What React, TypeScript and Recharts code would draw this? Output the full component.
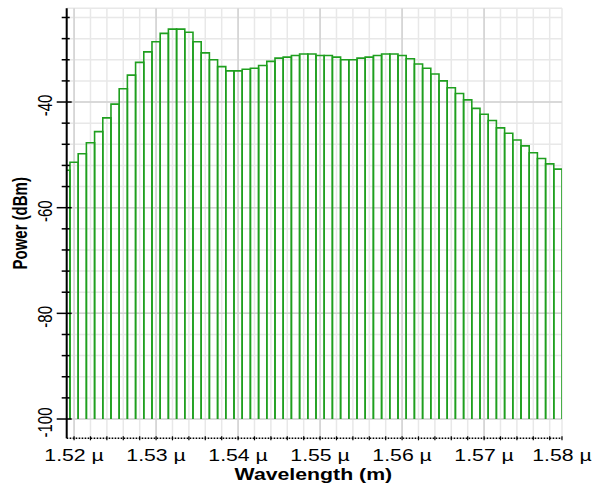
import { BarChart, Bar, XAxis, YAxis, CartesianGrid } from 'recharts';

// spectrum samples, 1 nm apart (values in µm / dBm)
const wavelengths = [
  1.519, 1.52, 1.521, 1.522, 1.523, 1.524, 1.525, 1.526, 1.527, 1.528,
  1.529, 1.53, 1.531, 1.532, 1.533, 1.534, 1.535, 1.536, 1.537, 1.538,
  1.539, 1.54, 1.541, 1.542, 1.543, 1.544, 1.545, 1.546, 1.547, 1.548,
  1.549, 1.55, 1.551, 1.552, 1.553, 1.554, 1.555, 1.556, 1.557, 1.558,
  1.559, 1.56, 1.561, 1.562, 1.563, 1.564, 1.565, 1.566, 1.567, 1.568,
  1.569, 1.57, 1.571, 1.572, 1.573, 1.574, 1.575, 1.576, 1.577, 1.578,
  1.579,
];
const powers = [
  -52.9, -51.4, -49.8, -47.7, -45.6, -43.0, -40.4, -37.5, -34.9, -32.5,
  -30.5, -28.6, -27.0, -26.2, -26.2, -26.8, -28.6, -30.7, -32.0, -33.3,
  -34.1, -34.1, -33.8, -33.6, -33.1, -32.3, -31.7, -31.5, -31.2, -30.9,
  -30.9, -31.2, -31.2, -31.5, -32.0, -32.0, -31.7, -31.5, -31.2, -30.9,
  -30.9, -31.2, -31.8, -32.8, -33.6, -34.7, -36.0, -37.3, -38.4, -39.6,
  -41.2, -42.3, -43.5, -44.9, -45.9, -47.2, -48.3, -49.6, -50.7, -51.7,
  -52.7,
];
const floorDbm = -100;

const xMinorTicks = [
  1.52, 1.522, 1.524, 1.526, 1.528, 1.53, 1.532, 1.534, 1.536, 1.538,
  1.54, 1.542, 1.544, 1.546, 1.548, 1.55, 1.552, 1.554, 1.556, 1.558,
  1.56, 1.562, 1.564, 1.566, 1.568, 1.57, 1.572, 1.574, 1.576, 1.578,
];
const xMajorTicks = [1.52, 1.53, 1.54, 1.55, 1.56, 1.57];
const xEdge = 1.5795; // right edge of the trace, labelled "1.58 µ"
const xDomain = [1.5191, xEdge];

const yTicks = [
  -100, -96, -92, -88, -84, -80, -76, -72, -68, -64,
  -60, -56, -52, -48, -44, -40, -36, -32, -28, -24,
];
const yMajorTicks = [-100, -80, -60, -40];
const yDomain = [-103.65, -22.26];

const data = wavelengths.map((w, i) => ({ w, range: [floorDbm, powers[i]] }));

const FONT = 'Liberation Sans, Arial, sans-serif';
const STRETCH = 1.33;

// open-bottomed bar: left side, top, right side
function StemBar({ x, y, width, height, stroke, strokeWidth }: any) {
  if (width == null || height == null) return null;
  const d = `M${x},${y + height}L${x},${y}L${x + width},${y}L${x + width},${y + height}`;
  return <path d={d} fill="none" stroke={stroke} strokeWidth={strokeWidth} />;
}

function XTick({ x, y, payload }: any) {
  const v = payload.value;
  const labelled = xMajorTicks.includes(v) || v === xEdge;
  return (
    <g>
      <line x1={x} x2={x} y1={y - 2} y2={y + 2} stroke="#000" strokeWidth={1.2} />
      {labelled && (
        <text
          transform={`translate(${x},${y + 23}) scale(${STRETCH},1)`}
          textAnchor="middle"
          fontSize={16}
          fontFamily={FONT}
          fill="#000"
        >
          {v.toFixed(2)} µ
        </text>
      )}
    </g>
  );
}

function YTick({ x, y, payload }: any) {
  const major = yMajorTicks.includes(payload.value);
  return (
    <g>
      <line
        x1={major ? x - 10 : x - 5}
        x2={major ? x + 5 : x + 3}
        y1={y}
        y2={y}
        stroke="#000"
        strokeWidth={1.5}
      />
      {major && (
        <text
          transform={`translate(${x - 21},${y + 3.5}) scale(${STRETCH},1) rotate(-90)`}
          textAnchor="middle"
          dominantBaseline="central"
          fontSize={15}
          fontFamily={FONT}
          fill="#000"
        >
          {payload.value}
        </text>
      )}
    </g>
  );
}

function XTitle({ viewBox }: any) {
  const cx = viewBox.x + viewBox.width / 2 - 1;
  return (
    <text
      transform={`translate(${cx},${viewBox.y + 41.7}) scale(${STRETCH},1)`}
      textAnchor="middle"
      fontSize={16}
      fontWeight="bold"
      fontFamily={FONT}
      fill="#000"
    >
      Wavelength (m)
    </text>
  );
}

function YTitle({ viewBox }: any) {
  const cy = viewBox.y + viewBox.height / 2;
  return (
    <text
      transform={`translate(${viewBox.x + 20},${cy}) scale(${STRETCH},1) rotate(-90)`}
      textAnchor="middle"
      dominantBaseline="central"
      fontSize={15}
      fontWeight="bold"
      fontFamily={FONT}
      fill="#000"
    >
      Power (dBm)
    </text>
  );
}

export default function App() {
  return (
    <div style={{ position: 'absolute', left: 0, top: 0, background: '#fff' }}>
      <BarChart
        width={595}
        height={484}
        data={data}
        margin={{ top: 8.3, right: 33, left: 0, bottom: 15.7 }}
      >
        <CartesianGrid stroke="#e8e8e8" strokeWidth={1.5} />
        <CartesianGrid
          stroke="#d2d2d2"
          strokeWidth={1.5}
          verticalValues={xMajorTicks}
          horizontalValues={yMajorTicks}
        />
        <XAxis
          dataKey="w"
          type="number"
          domain={xDomain}
          allowDataOverflow
          ticks={[...xMinorTicks, xEdge]}
          interval={0}
          tickSize={0}
          tickMargin={0}
          tickLine={false}
          tick={<XTick />}
          height={30}
          axisLine={{ stroke: '#000', strokeWidth: 1.5, strokeDasharray: '1.5 1.5' }}
          label={<XTitle />}
        />
        <XAxis
          xAxisId="top"
          orientation="top"
          type="number"
          domain={xDomain}
          allowDataOverflow
          height={0}
          tick={false}
          tickLine={false}
          axisLine={{ stroke: '#222', strokeWidth: 1.3, strokeDasharray: '1 1.5' }}
        />
        <YAxis
          type="number"
          domain={yDomain}
          allowDataOverflow
          ticks={yTicks}
          interval={0}
          tickSize={0}
          tickMargin={0}
          tickLine={false}
          tick={<YTick />}
          width={66.7}
          axisLine={{ stroke: '#000', strokeWidth: 2 }}
          label={<YTitle />}
        />
        <YAxis
          yAxisId="right"
          orientation="right"
          type="number"
          domain={yDomain}
          allowDataOverflow
          width={0}
          tick={false}
          tickLine={false}
          axisLine={{ stroke: '#222', strokeWidth: 1.5, strokeDasharray: '1 1' }}
        />
        <Bar
          dataKey="range"
          fill="none"
          stroke="#1f9f1f"
          strokeWidth={1.6}
          barSize={8.2}
          shape={<StemBar />}
          isAnimationActive={false}
        />
      </BarChart>
    </div>
  );
}
